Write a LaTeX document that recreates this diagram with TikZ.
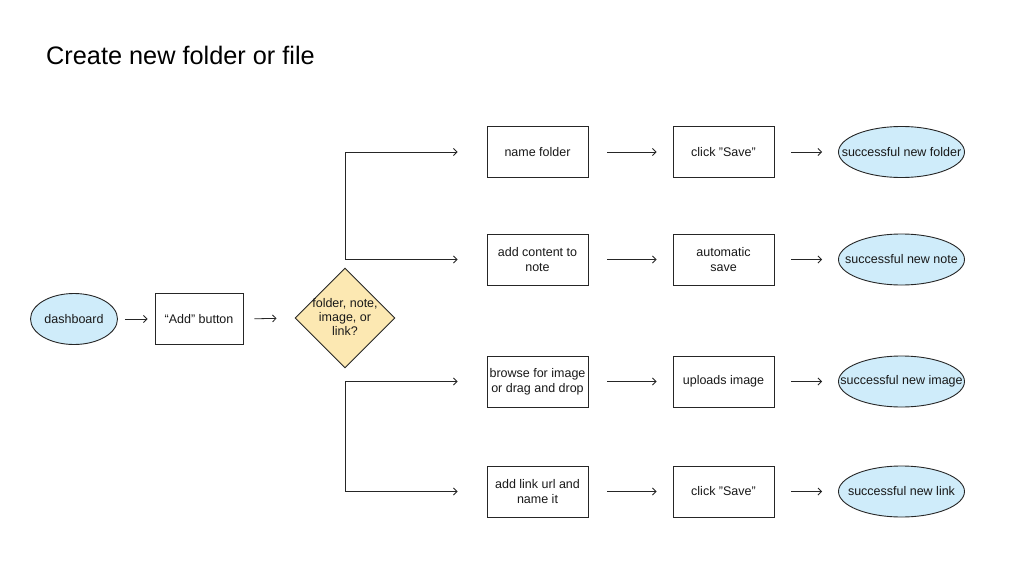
\documentclass[tikz,border=0pt]{standalone}
\usepackage{fontspec}
\setmainfont{Liberation Sans}
\usetikzlibrary{arrows.meta,shapes.geometric}
\definecolor{ovalblue}{RGB}{207,236,250}
\definecolor{decyellow}{RGB}{252,232,178}
\newcommand{\zerow}[1]{\makebox[0pt][c]{#1}}
\tikzset{
  txt/.style={font=\fontsize{12.5}{15}\selectfont, align=center, text=black!90},
  stepbox/.style={txt, draw=black!85, line width=0.9pt, minimum width=101pt, minimum height=51pt, inner sep=1pt},
  oval/.style={txt, ellipse, draw=black!85, line width=0.9pt, fill=ovalblue, minimum width=#1, minimum height=51pt, inner sep=0pt},
  decision/.style={txt, diamond, draw=black!85, line width=0.9pt, fill=decyellow, minimum width=100pt, minimum height=100pt, inner sep=0pt, aspect=1},
  arr/.style={draw=black!85, line width=0.8pt, -{Straight Barb[length=3.5pt,width=7pt]}}
}
\begin{document}
\begin{tikzpicture}[x=1pt,y=-1pt]
\useasboundingbox (0,0) rectangle (1025,586);
\fill[white] (0,0) rectangle (1025,586);
\node[anchor=base west, font=\fontsize{25.3}{30}\selectfont, inner sep=0pt] (title) at (46,64) {Create new folder or file};

\node[oval=87pt] (dash) at (74,319) {\zerow{dashboard}};
\node[stepbox, minimum width=88pt] (add) at (199,319) {“Add” button};
\node[decision] (dec) at (345,318) {\zerow{\raisebox{-2pt}{\begin{tabular}{@{}c@{}}folder, note,\\[-1pt]image, or\\[-1pt]link?\end{tabular}}}};

\node[stepbox] (n1) at (537.5,152) {name folder};
\node[stepbox] (n2) at (537.5,259.5) {add content to\\note};
\node[stepbox] (n3) at (537.5,381.5) {browse for image\\or drag and drop};
\node[stepbox] (n4) at (537.5,491.5) {add link url and\\name it};

\node[stepbox] (m1) at (723.5,152) {click "Save"};
\node[stepbox] (m2) at (723.5,259.5) {automatic\\save};
\node[stepbox] (m3) at (723.5,381.5) {uploads image};
\node[stepbox] (m4) at (723.5,491.5) {click "Save"};

\node[oval=126pt] (e1) at (901.5,152) {\zerow{successful new folder}};
\node[oval=126pt] (e2) at (901.5,259.5) {\zerow{successful new note}};
\node[oval=126pt] (e3) at (901.5,381.5) {\zerow{successful new image}};
\node[oval=126pt] (e4) at (901.5,491.5) {\zerow{successful new link}};

\draw[arr, shorten <=7pt, shorten >=7pt] (dash) -- (add);
\draw[arr, shorten <=11pt, shorten >=18pt] (add.east) -- (dec.west);

\draw[arr, shorten >=29pt] (dec.north |- n2.west) -- (dec.north |- n1.west) -- (n1.west);
\draw[arr, shorten >=29pt] (dec.north |- n2.west) -- (n2.west);
\draw[arr, shorten >=29pt] (dec.south |- n4.west) -- (dec.south |- n3.west) -- (n3.west);
\draw[arr, shorten >=29pt] (dec.south |- n4.west) -- (n4.west);

\foreach \i in {1,2,3,4}{
  \draw[arr, shorten <=19pt, shorten >=16pt] (n\i.east) -- (m\i.west);
  \draw[arr, shorten <=17pt, shorten >=16pt] (m\i.east) -- (e\i.west);
}
\end{tikzpicture}
\end{document}
